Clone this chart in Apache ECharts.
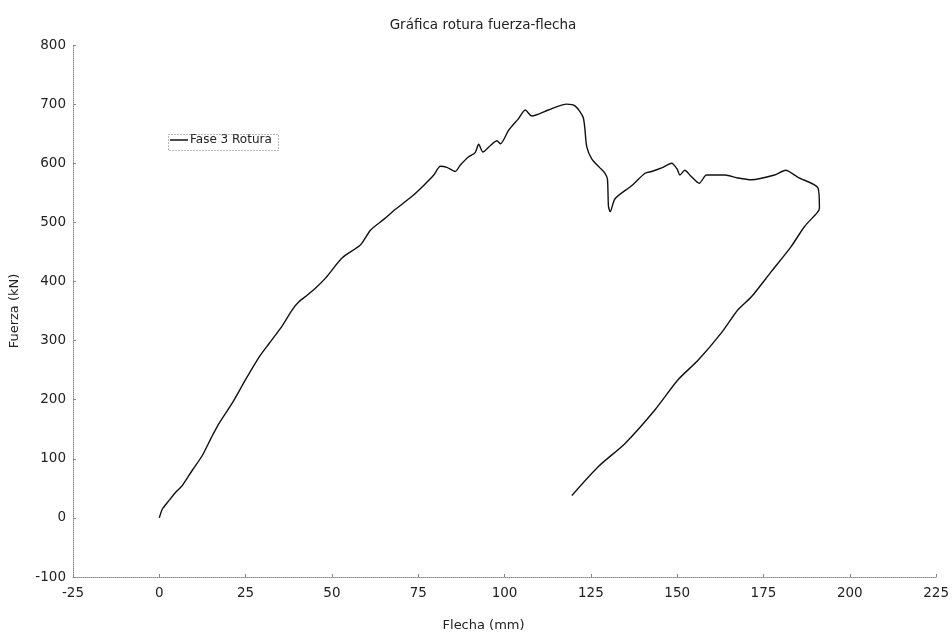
<!DOCTYPE html>
<html>
<head>
<meta charset="utf-8">
<script src="https://cdn.jsdelivr.net/npm/echarts@6/dist/echarts.min.js"></script>
<style>html,body{margin:0;padding:0;background:#fff}#c{width:952px;height:639px}</style>
</head>
<body>
<div id="c"></div>
<script>
const chartTitle = 'Gráfica rotura fuerza-flecha';
const seriesName = 'Fase 3 Rotura';
const xName = 'Flecha (mm)';
const yName = 'Fuerza (kN)';
const flecha = [0,0.9,2.9,5,6.7,9.6,12.5,15,17.3,21.2,25.1,28.9,31.8,35.6,38.5,40.5,42.9,45.5,48.2,53,58.3,61.2,65,68.4,73.2,76.5,79.5,81.4,83.3,85.7,87.2,89.6,91.5,92.5,93.7,95.9,97.8,98.8,101.2,104,106,107.9,112.7,118,120.4,122.8,123.8,125.3,127.5,129.1,129.8,130.1,130.6,132,136.8,140.7,142.6,145.5,148.4,150,150.8,152.2,154,156.4,158.5,163.8,167.6,171.5,178.2,181.4,185,190.8,191.2,190.5,186.9,183,177.3,171.5,167.6,162.8,156.1,150.3,143.6,134.9,127.2,119.5];
const fuerza = [0,15,30,45,55,81,106,135,160,195,235,272,295,325,352,366,377,390,406,440,462,487,505,522,544,562,580,595,593,586,597,611,618,632,619,630,638,633,656,675,690,680,690,700,697,677,628,607,593,583,573,527,518,540,562,583,586,592,600,590,580,588,578,566,580,580,575,572,580,588,576,558,524,516,493,459,417,374,352,313,267,234,183,126,87,38];

const data = flecha.map((x, i) => [x, fuerza[i]]);
const font = 'DejaVu Sans, sans-serif';
const axisCol = '#888';
const txt = '#222';

const chart = echarts.init(document.getElementById('c'));
chart.setOption({
  animation: false,
  backgroundColor: '#fff',
  title: {
    text: chartTitle, left: 478, top: 13, textAlign: 'center',
    textStyle: {fontFamily: font, fontSize: 13.5, fontWeight: 'normal', color: txt}
  },
  grid: {left: 73, right: 14, top: 45, bottom: 62},
  legend: {
    data: [seriesName], left: 170, top: 134,
    icon: 'rect', itemWidth: 18, itemHeight: 1.5, itemGap: 4,
    textStyle: {fontFamily: font, fontSize: 12, color: txt, padding: [0,0,0,-3]},
    padding: 0
  },
  graphic: [{
    type: 'rect', left: 166, top: 132,
    shape: {width: 110, height: 16},
    style: {fill: 'none', stroke: '#777', lineWidth: 1, lineDash: [1, 2]},
    z: 100
  }],
  xAxis: {
    type: 'value', min: -25, max: 225, interval: 25,
    name: xName, nameLocation: 'middle', nameGap: 42,
    nameTextStyle: {fontFamily: font, fontSize: 13, color: txt, padding: [0, 42, 0, 0]},
    axisLine: {show: true, onZero: false, lineStyle: {color: axisCol, type: 'dotted', width: 1}},
    axisTick: {show: true, inside: true, length: 3, lineStyle: {color: axisCol}},
    splitLine: {show: false},
    axisLabel: {fontFamily: font, fontSize: 13.5, color: txt, margin: 9}
  },
  yAxis: {
    type: 'value', min: -100, max: 800, interval: 100,
    name: yName, nameLocation: 'middle', nameGap: 52,
    nameTextStyle: {fontFamily: font, fontSize: 13, color: txt},
    axisLine: {show: true, onZero: false, lineStyle: {color: axisCol, type: 'dotted', width: 1}},
    axisTick: {show: true, inside: true, length: 3, lineStyle: {color: axisCol}},
    splitLine: {show: false},
    axisLabel: {fontFamily: font, fontSize: 13.5, color: txt, margin: 7}
  },
  series: [{
    name: seriesName, type: 'line', data: data,
    smooth: 0.25, showSymbol: false, symbol: 'none',
    lineStyle: {color: '#111', width: 1.4},
    itemStyle: {color: '#111'}
  }]
});
</script>
</body>
</html>
